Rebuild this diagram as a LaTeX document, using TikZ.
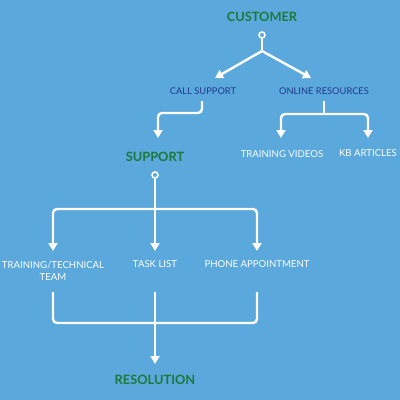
\documentclass[tikz,border=0pt]{standalone}
\usepackage{fontspec}
\setmainfont{Lato}
\usetikzlibrary{arrows.meta}
\definecolor{skyblue}{HTML}{5AA8DC}
\definecolor{titlegreen}{HTML}{1B7A3A}
\definecolor{labelblue}{HTML}{22398A}
\tikzset{
  title/.style={font=\bfseries\fontsize{12.8}{14}\selectfont, text=titlegreen, inner sep=0pt},
  bluelabel/.style={font=\fontsize{9.3}{10}\selectfont, text=labelblue, inner sep=0pt},
  whitelabel/.style={font=\fontsize{9.6}{12}\selectfont, text=white, inner sep=0pt, align=center},
  flow/.style={draw=white, line width=2.4pt, rounded corners=4pt},
  tip/.style={-{Triangle[width=9pt,length=8pt]}},
  start/.style={circle, draw=white, line width=1.6pt, fill=skyblue, inner sep=0pt, minimum size=6pt}
}
\begin{document}
\begin{tikzpicture}[x=1pt,y=-1pt]
  \fill[skyblue] (0,0) rectangle (400,400);
  \useasboundingbox (0,0) rectangle (400,400);
  % top level
  \node[title] (customer) at (262,17) {CUSTOMER};
  \node[start] (o1) at (262,35) {};
  \coordinate (s1) at (262,51);
  \node[bluelabel] (call) at (203,91) {CALL SUPPORT};
  \node[bluelabel] (online) at (324,91) {ONLINE RESOURCES};
  \draw[flow] (o1)--(s1);
  \draw[flow,tip] (s1)--(215,78);
  \draw[flow,tip] (s1)--(311,78);
  % online resources
  \node[whitelabel] (videos) at (282,154) {TRAINING VIDEOS};
  \node[whitelabel] (kb) at (368,153) {KB ARTICLES};
  \coordinate (s2) at (324,114);
  \draw[flow] (324,101)--(s2);
  \draw[flow,tip] (s2)-|(281,138);
  \draw[flow,tip] (s2)-|(368,138);
  % call support
  \node[title] (support) at (155,157) {SUPPORT};
  \draw[flow,tip] (202,101)|-(158,113)--(158,138);
  \node[start] (o2) at (155,175) {};
  \coordinate (s3) at (155,209);
  \node[whitelabel] (team) at (53,271) {TRAINING/TECHNICAL\\TEAM};
  \node[whitelabel] (task) at (155,264) {TASK LIST};
  \node[whitelabel] (phone) at (257,264) {PHONE APPOINTMENT};
  \draw[flow,tip] (o2)--(155,251);
  \draw[flow,tip] (s3)-|(53,251);
  \draw[flow,tip] (s3)-|(257,251);
  % resolution
  \node[title] (resolution) at (155,380) {RESOLUTION};
  \coordinate (s4) at (155,323);
  \draw[flow] (53,292)|-(s4);
  \draw[flow] (257,292)|-(s4);
  \draw[flow] (155,292)--(s4);
  \draw[flow,tip] (s4)--(155,364);
\end{tikzpicture}
\end{document}
